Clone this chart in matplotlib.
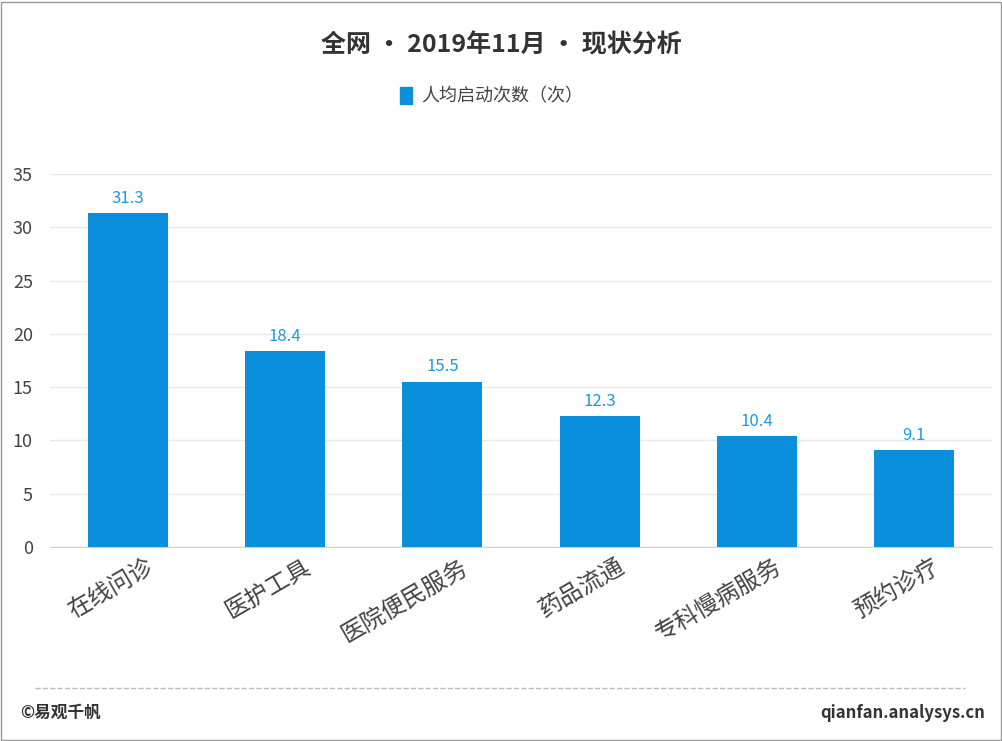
import matplotlib.pyplot as plt
import matplotlib.transforms as mtransforms
from matplotlib.patches import Rectangle
from matplotlib.lines import Line2D

plt.rcParams['font.family'] = ['Noto Sans CJK SC', 'DejaVu Sans']

categories = ["在线问诊", "医护工具", "医院便民服务", "药品流通", "专科慢病服务", "预约诊疗"]
values = [31.3, 18.4, 15.5, 12.3, 10.4, 9.1]
series_name = "人均启动次数（次）"

W, H = 1003, 741
fig = plt.figure(figsize=(W / 100, H / 100), dpi=100)
ax = fig.add_axes([49.5 / W, 1 - 547 / H, (992.5 - 49.5) / W, (547 - 174) / H])

bar_color = "#0a8fdc"
x = range(len(categories))
ax.bar(x, values, width=0.51, color=bar_color, label=series_name, zorder=3)
for xi, v in zip(x, values):
    ax.text(xi, v + 0.6, f"{v}", ha="center", va="bottom", fontsize=12, color="#1a9be0")

ax.set_xlim(-0.5, len(categories) - 0.5)
ax.set_ylim(0, 35)
ax.set_yticks(range(0, 36, 5))
ax.grid(axis="y", color="#e8e8e8", linewidth=1, zorder=0)
for s in ["top", "right", "left"]:
    ax.spines[s].set_visible(False)
ax.spines["bottom"].set_color("#d0d0d0")
ax.tick_params(axis="y", length=0, labelsize=13, labelcolor="#444444", pad=12)
ax.tick_params(axis="x", length=0, pad=6)
ax.set_xticks(list(x))
ax.set_xticklabels(categories, rotation=30, ha="right", rotation_mode="anchor",
                   fontsize=17, color="#444444")
shift = mtransforms.ScaledTranslation(18 / 100, 0, fig.dpi_scale_trans)
for lbl in ax.get_xticklabels():
    lbl.set_transform(lbl.get_transform() + shift)

fig.text(0.5, 1 - 45 / H, "全网 • 2019年11月 • 现状分析", ha="center", va="center",
         fontsize=18, fontweight="bold", color="#333333")
fig.legend(handles=[Rectangle((0, 0), 1, 1, color=bar_color)], labels=[series_name],
           loc="center", bbox_to_anchor=(0.49, 1 - 96 / H), frameon=False,
           fontsize=13, handlelength=0.7, handleheight=1.1, handletextpad=0.5,
           labelcolor="#444444")

fig.add_artist(Line2D([35 / W, 965 / W], [1 - 688 / H] * 2, color="#bbbbbb",
                      linestyle="--", linewidth=1))
fig.text(20 / W, 1 - 713 / H, "©易观千帆", ha="left", va="center", fontsize=12,
         fontweight="bold", color="#333333")
fig.text(985 / W, 1 - 713 / H, "qianfan.analysys.cn", ha="right", va="center",
         fontsize=12, fontweight="bold", color="#333333")
fig.add_artist(Rectangle((1 / W, 1 / H), 1 - 3 / W, 1 - 3 / H, fill=False,
                         edgecolor="#999999", linewidth=1, transform=fig.transFigure))

fig.savefig("out.png", dpi=100)
